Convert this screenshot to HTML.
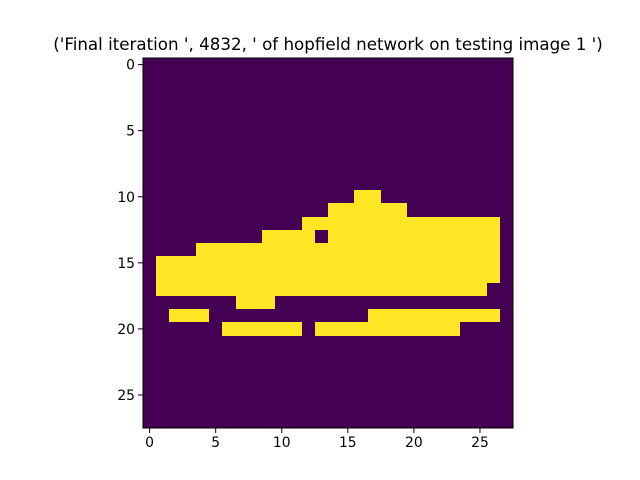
<!DOCTYPE html>
<html><head><meta charset="utf-8"><style>body{margin:0;background:#fff}svg{display:block}text{font-family:"DejaVu Sans","Liberation Sans",sans-serif}</style></head>
<body>
<svg id="chart" width="640" height="480">
<rect width="640" height="480" fill="#fff"/>
<text x="328" y="50" font-size="16.7" text-anchor="middle">('Final iteration ', 4832, ' of hopfield network on testing image 1 ')</text>
<g id="img" shape-rendering="crispEdges"></g>
<g id="axes"></g>
</svg>
<script>
const gridSize = 28;
// rows with "on" segments: [row, startCol, endCol]
const segments = [
 [10,16,17],[11,14,19],[12,12,26],[13,9,12],[13,14,26],[14,4,26],[15,1,26],[16,1,26],[17,1,25],
 [18,7,9],[19,2,4],[19,17,26],[20,6,11],[20,13,23]
];
const tickValues = [0,5,10,15,20,25];
const L=143,T=58,S=370;
const cell=S/gridSize;
function px(v){return L+(v+0.5)*cell;}
function py(v){return T+(v+0.5)*cell;}
const ns="http://www.w3.org/2000/svg";
const img=document.getElementById('img'), ax=document.getElementById('axes');
function mk(tag,attrs,parent){const e=document.createElementNS(ns,tag);for(const k in attrs)e.setAttribute(k,attrs[k]);parent.appendChild(e);return e;}
const bg=mk('rect',{x:L,y:T,width:S,height:S,fill:'#440154'},img);


segments.forEach(s=>{
  const y0=Math.round(py(s[0]-0.5)), y1=Math.round(py(s[0]+0.5));
  const x0=Math.round(px(s[1]-0.5)), x1=Math.round(px(s[2]+0.5));
  const r=mk('rect',{x:x0,y:y0,width:x1-x0,height:y1-y0,fill:'#fde725'},img);
  
  
});
const fr=mk('rect',{x:L,y:T,width:S,height:S,fill:'none',stroke:'#000','stroke-width':1},ax);


tickValues.forEach(v=>{
  const x=px(v),y=py(v);
  mk('line',{x1:x,x2:x,y1:T+S,y2:T+S+5,stroke:'#000'},ax);
  const tx=mk('text',{x:x,y:T+S+19,'font-size':13.9,'text-anchor':'middle'},ax);
  tx.textContent=v;
  
  
  mk('line',{x1:L-5,x2:L,y1:y,y2:y,stroke:'#000'},ax);
  const ty=mk('text',{x:L-8,y:y+5,'font-size':13.9,'text-anchor':'end'},ax);
  ty.textContent=v;
  
  
});
</script>
</body></html>
